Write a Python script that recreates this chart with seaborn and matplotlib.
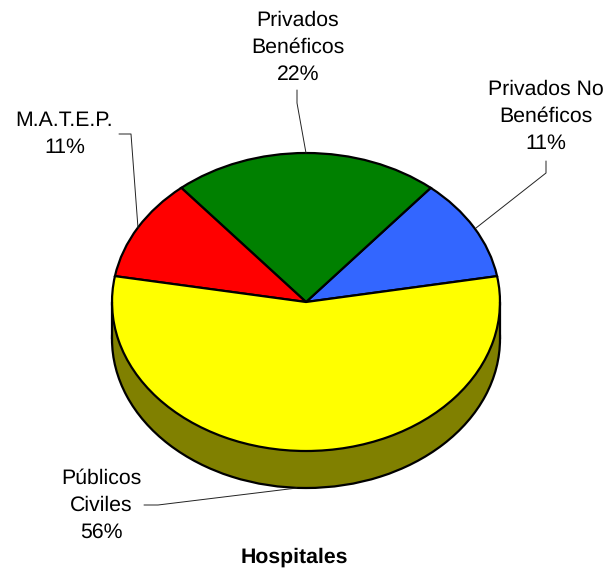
"""
Gràfic de sectors "3D" dels hospitals, amb etiquetes i línies guia.
"""
import matplotlib
matplotlib.use("Agg")
import matplotlib.pyplot as plt
import seaborn as sns

# =========================
# DADES
# =========================
categories = ['Privados No\nBenéficos', 'Privados\nBenéficos', 'M.A.T.E.P.', 'Públicos\nCiviles']
hospitals = [1, 2, 1, 5]   # 11%, 22%, 11%, 56%
colors = ['#3366FF', '#008000', '#FF0000', '#FFFF00']
titol = 'Hospitales'

# =========================
# ESTIL I GEOMETRIA (en píxels de la imatge)
# =========================
sns.set_theme(style="white")
plt.rcParams['font.family'] = ['Liberation Sans', 'DejaVu Sans']
plt.rcParams['text.hinting'] = 'none'

W, H = 611, 573
cx, cy, rx, ry = 306, 302, 194, 149
gruix = 37 / ry

def px(x, y):
    # píxels -> unitats del pastís
    return (x - cx) / rx, (cy - y) / ry

fig = plt.figure(figsize=(W / 100, H / 100), dpi=100)
ax = fig.add_axes([0, 0, 1, 1])

# Paret lateral
ax.pie([1], colors=['#808000'], center=(0, -gruix), radius=1,
       wedgeprops={'edgecolor': 'black', 'linewidth': 1.6})
ax.fill_between([-1, 1], -gruix, 0, color='#808000', lw=0)
ax.plot([-1, -1], [-gruix, 0], color='black', lw=1.6)
ax.plot([1, 1], [-gruix, 0], color='black', lw=1.6)

# Sectors superiors
ax.pie(hospitals, colors=colors, startangle=10, counterclock=True, radius=1,
       wedgeprops={'edgecolor': 'black', 'linewidth': 1.6})

ax.set_aspect('auto')
ax.set_xlim(px(0, 0)[0], px(W, 0)[0])
ax.set_ylim(px(0, H)[1], px(0, 0)[1])
ax.axis('off')

# =========================
# LÍNIES GUIA
# =========================
guies = [
    [(546, 161), (546, 173), (476, 228)],
    [(297, 90), (297, 103), (306, 153)],
    [(119, 134), (131, 134), (138, 228)],
    [(144, 505), (158, 505), (297, 488)],
]
for guia in guies:
    xs, ys = zip(*[px(*p) for p in guia])
    ax.plot(xs, ys, color='#222222', lw=0.7)

# =========================
# ETIQUETES
# =========================
total = sum(hospitals)
posicions = [(546, 116.5), (298, 47.5), (64.5, 134), (101, 505.5)]
for cat, val, (x, y) in zip(categories, hospitals, posicions):
    tx, ty = px(x, y)
    ax.text(tx, ty, f"{cat}\n{val / total * 100:.0f}%", ha='center', va='center',
            fontsize=15.3, color='black', linespacing=1.5)

tx, ty = px(294, 557)
ax.text(tx, ty, titol, ha='center', va='center', fontsize=15.3, fontweight='bold', color='black')

fig.savefig("out.png", dpi=100)
plt.close(fig)
